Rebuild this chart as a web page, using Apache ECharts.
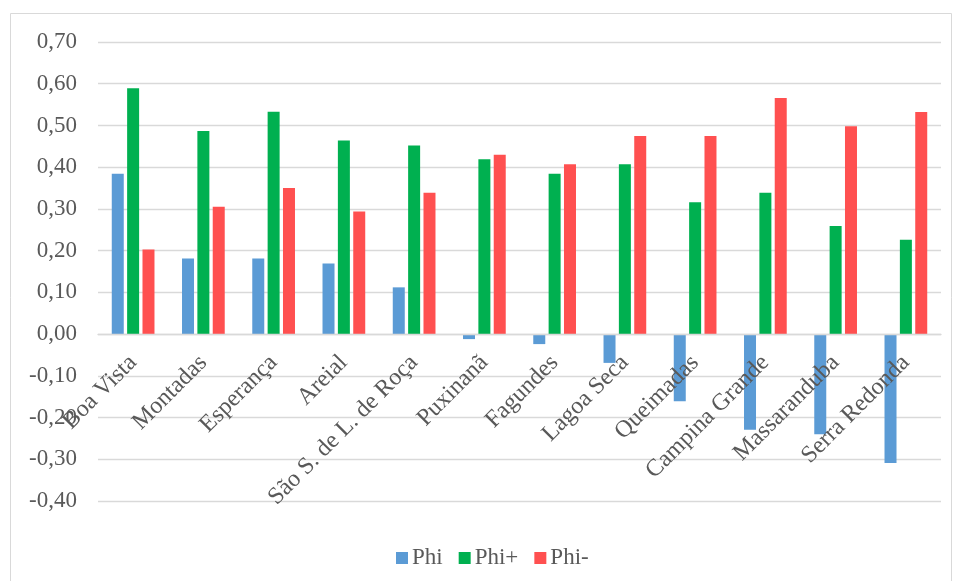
<!DOCTYPE html>
<html>
<head>
<meta charset="utf-8">
<script src="https://cdn.jsdelivr.net/npm/echarts@6/dist/echarts.min.js"></script>
<style>
html,body{margin:0;padding:0;background:#fff;}
#c{width:954px;height:581px;}
</style>
</head>
<body>
<div id="c"></div>
<script>
const categories = ['Boa Vista','Montadas','Esperança','Areial','São S. de L. de Roça','Puxinanã','Fagundes','Lagoa Seca','Queimadas','Campina Grande','Massaranduba','Serra Redonda'];
const phi      = [0.384, 0.181, 0.181, 0.169, 0.112, -0.012, -0.024, -0.069, -0.161, -0.229, -0.240, -0.309];
const phiPlus  = [0.589, 0.487, 0.533, 0.464, 0.452, 0.419, 0.384, 0.407, 0.316, 0.339, 0.259, 0.226];
const phiMinus = [0.203, 0.305, 0.350, 0.294, 0.339, 0.430, 0.407, 0.475, 0.475, 0.566, 0.498, 0.532];
const seriesNames = ['Phi','Phi+','Phi-'];
const yMin = -0.4, yMax = 0.7, yStep = 0.1;

const FONT = "'Liberation Serif','Times New Roman',serif";
const TXT = '#595959';
const H = 581, GT = 42, GB = 80;
const gridH = H - GT - GB;
const zeroOffset = -gridH * (0 - yMin) / (yMax - yMin);

const chart = echarts.init(document.getElementById('c'), null, {renderer:'canvas'});
chart.setOption({
  animation:false,
  textStyle:{fontFamily:FONT},
  color:['#5B9BD5','#00B050','#FF5050'],
  graphic:[{type:'rect',shape:{x:10.5,y:13.5,width:941,height:580},style:{fill:'none',stroke:'#d9d9d9',lineWidth:1},silent:true}],
  grid:{left:98,right:13,top:GT,bottom:GB,containLabel:false,outerBoundsMode:'none'},
  legend:{
    data:seriesNames,left:391,top:541,icon:'rect',itemWidth:12,itemHeight:12,itemGap:16,
    textStyle:{fontFamily:FONT,fontSize:23,color:TXT,lineHeight:24,padding:[0,0,0,-1]}
  },
  xAxis:{
    type:'category',data:categories,position:'bottom',offset:zeroOffset,z:5,
    axisLine:{onZero:false,lineStyle:{color:'#d9d9d9',width:1.3}},
    axisTick:{show:false},
    axisLabel:{rotate:45,interval:0,margin:25,fontFamily:FONT,fontSize:24,color:TXT}
  },
  yAxis:{
    type:'value',min:yMin,max:yMax,interval:yStep,
    axisLine:{show:false},axisTick:{show:false},
    splitLine:{lineStyle:{color:'#d9d9d9',width:1.3}},
    axisLabel:{margin:21,fontFamily:FONT,fontSize:23,color:TXT,
      formatter:v=>(Math.round(v*100)/100).toFixed(2).replace('.',',')}
  },
  series:[
    {name:'Phi',type:'bar',data:phi,barWidth:12,barGap:'28%',barCategoryGap:'38%'},
    {name:'Phi+',type:'bar',data:phiPlus,barWidth:12,barGap:'28%'},
    {name:'Phi-',type:'bar',data:phiMinus,barWidth:12,barGap:'28%'}
  ]
});
</script>
</body>
</html>
